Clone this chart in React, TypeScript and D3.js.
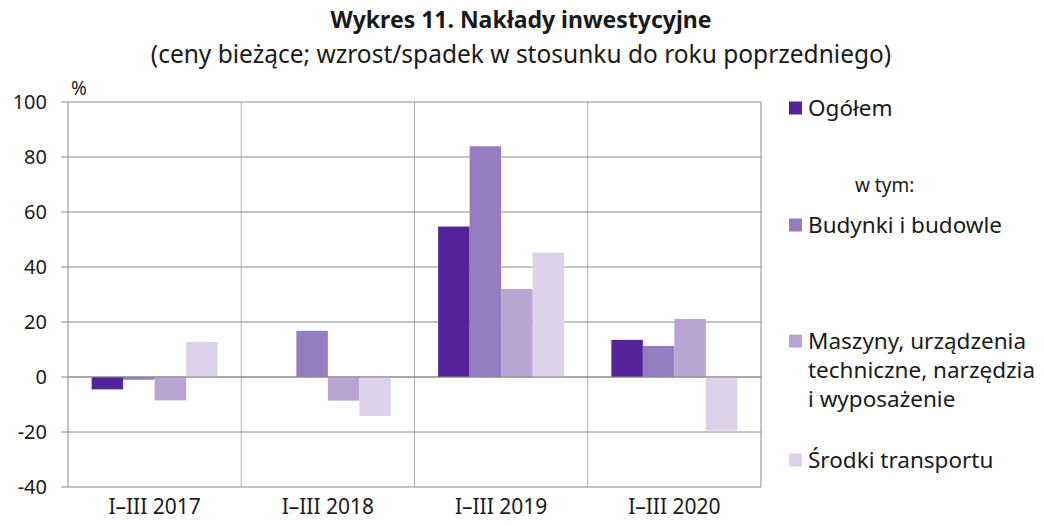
import React, { useEffect, useRef } from 'react';
import * as d3 from 'd3';

const categories = ['I–III 2017', 'I–III 2018', 'I–III 2019', 'I–III 2020'];
const seriesNames = ['Ogółem', 'Budynki i budowle', 'Maszyny, urządzenia techniczne, narzędzia i wyposażenie', 'Środki transportu'];
const ogolem = [-4.5, 0, 54.7, 13.5];
const budynki = [-1.0, 16.8, 83.9, 11.3];
const maszyny = [-8.5, -8.6, 32.0, 21.1];
const srodki = [12.7, -14.2, 45.2, -19.5];
const yTicks = [-40, -20, 0, 20, 40, 60, 80, 100];
const colors = ['#53239a', '#957dbf', '#b9a5d4', '#dcd3ea'];

const FONT = '"Noto Sans", "Open Sans", sans-serif';

function Chart() {
  const ref = useRef<SVGSVGElement>(null);

  useEffect(() => {
    const svg = d3.select(ref.current);
    svg.selectAll('*').remove();
    const margin = { top: 102, left: 68, right: 283, bottom: 38 };
    const width = 1044 - margin.left - margin.right;
    const height = 525 - margin.top - margin.bottom;
    const series = [ogolem, budynki, maszyny, srodki];

    const x0 = d3.scaleBand().domain(categories).range([0, width])
      .paddingInner(0.2727).paddingOuter(0.13636);
    const x1 = d3.scaleBand().domain(d3.range(4).map(String)).range([0, x0.bandwidth()]);
    const y = d3.scaleLinear().domain([-40, 100]).range([height, 0]);

    // title
    svg.append('text').attr('x', 521).attr('y', 28).attr('text-anchor', 'middle')
      .attr('font-family', FONT).attr('font-weight', 'bold').attr('font-size', 23)
      .attr('fill', '#1a1a1a').text('Wykres 11. Nakłady inwestycyjne');
    svg.append('text').attr('x', 521).attr('y', 63).attr('text-anchor', 'middle')
      .attr('font-family', FONT).attr('font-size', 24.5).attr('fill', '#1a1a1a')
      .text('(ceny bieżące; wzrost/spadek w stosunku do roku poprzedniego)');

    const g = svg.append('g').attr('transform', `translate(${margin.left},${margin.top})`);

    // vertical gridlines between categories
    const step = x0.step();
    g.selectAll('.vgrid').data(d3.range(1, 4)).enter().append('line')
      .attr('x1', d => d * step).attr('x2', d => d * step)
      .attr('y1', 0).attr('y2', height)
      .attr('stroke', '#b3b3b3').attr('stroke-width', 1);

    // horizontal gridlines
    g.selectAll('.hgrid').data(yTicks).enter().append('line')
      .attr('x1', -7).attr('x2', width)
      .attr('y1', d => y(d)).attr('y2', d => y(d))
      .attr('stroke', '#8a8a8a').attr('stroke-width', 1);

    // frame
    g.append('line').attr('x1', 0).attr('x2', 0).attr('y1', 0).attr('y2', height)
      .attr('stroke', '#8a8a8a');
    g.append('line').attr('x1', width).attr('x2', width).attr('y1', 0).attr('y2', height)
      .attr('stroke', '#8a8a8a');

    // bars
    series.forEach((vals, si) => {
      g.selectAll(`.bar${si}`).data(vals).enter().append('rect')
        .attr('x', (d, i) => (x0(categories[i]) as number) + (x1(String(si)) as number))
        .attr('width', x1.bandwidth())
        .attr('y', d => y(Math.max(0, d)))
        .attr('height', d => Math.abs(y(d) - y(0)))
        .attr('fill', colors[si]);
    });

    // zero line on top
    g.append('line').attr('x1', 0).attr('x2', width).attr('y1', y(0)).attr('y2', y(0))
      .attr('stroke', '#8a8a8a');

    // y labels
    g.selectAll('.ylab').data(yTicks).enter().append('text')
      .attr('x', -21).attr('y', d => y(d)).attr('dy', '0.35em')
      .attr('text-anchor', 'end').attr('font-family', FONT).attr('font-size', 20)
      .attr('fill', '#1a1a1a').text(d => String(d));

    g.append('text').attr('x', 3).attr('y', -7).attr('font-family', FONT)
      .attr('font-size', 19).attr('fill', '#1a1a1a').text('%');

    // x labels
    g.selectAll('.xlab').data(categories).enter().append('text')
      .attr('x', d => (x0(d) as number) + x0.bandwidth() / 2)
      .attr('y', height + 27).attr('text-anchor', 'middle')
      .attr('font-family', FONT).attr('font-size', 21).attr('fill', '#1a1a1a')
      .text(d => d);

    // legend
    const lg = svg.append('g');
    const items = [
      { lines: ['Ogółem'], cy: 108, c: 0 },
      { lines: ['Budynki i budowle'], cy: 225, c: 1 },
      { lines: ['Maszyny, urządzenia', 'techniczne, narzędzia', 'i wyposażenie'], cy: 341, c: 2 },
      { lines: ['Środki transportu'], cy: 460, c: 3 },
    ];
    items.forEach(it => {
      lg.append('rect').attr('x', 789).attr('y', it.cy - 6.5).attr('width', 13).attr('height', 13)
        .attr('fill', colors[it.c]);
      it.lines.forEach((t, li) => {
        lg.append('text').attr('x', 808).attr('y', it.cy + li * 29).attr('dy', '0.35em')
          .attr('font-family', FONT).attr('font-size', 22.5).attr('fill', '#1a1a1a').text(t);
      });
    });
    lg.append('text').attr('x', 855).attr('y', 185).attr('dy', '0.35em')
      .attr('font-family', FONT).attr('font-size', 19).attr('fill', '#1a1a1a').text('w tym:');
  }, []);

  return <svg ref={ref} width={1044} height={525} style={{ display: 'block' }}></svg>;
}

export default function App() {
  return (
    <div style={{ margin: -8 }}>
      <Chart />
    </div>
  );
}
